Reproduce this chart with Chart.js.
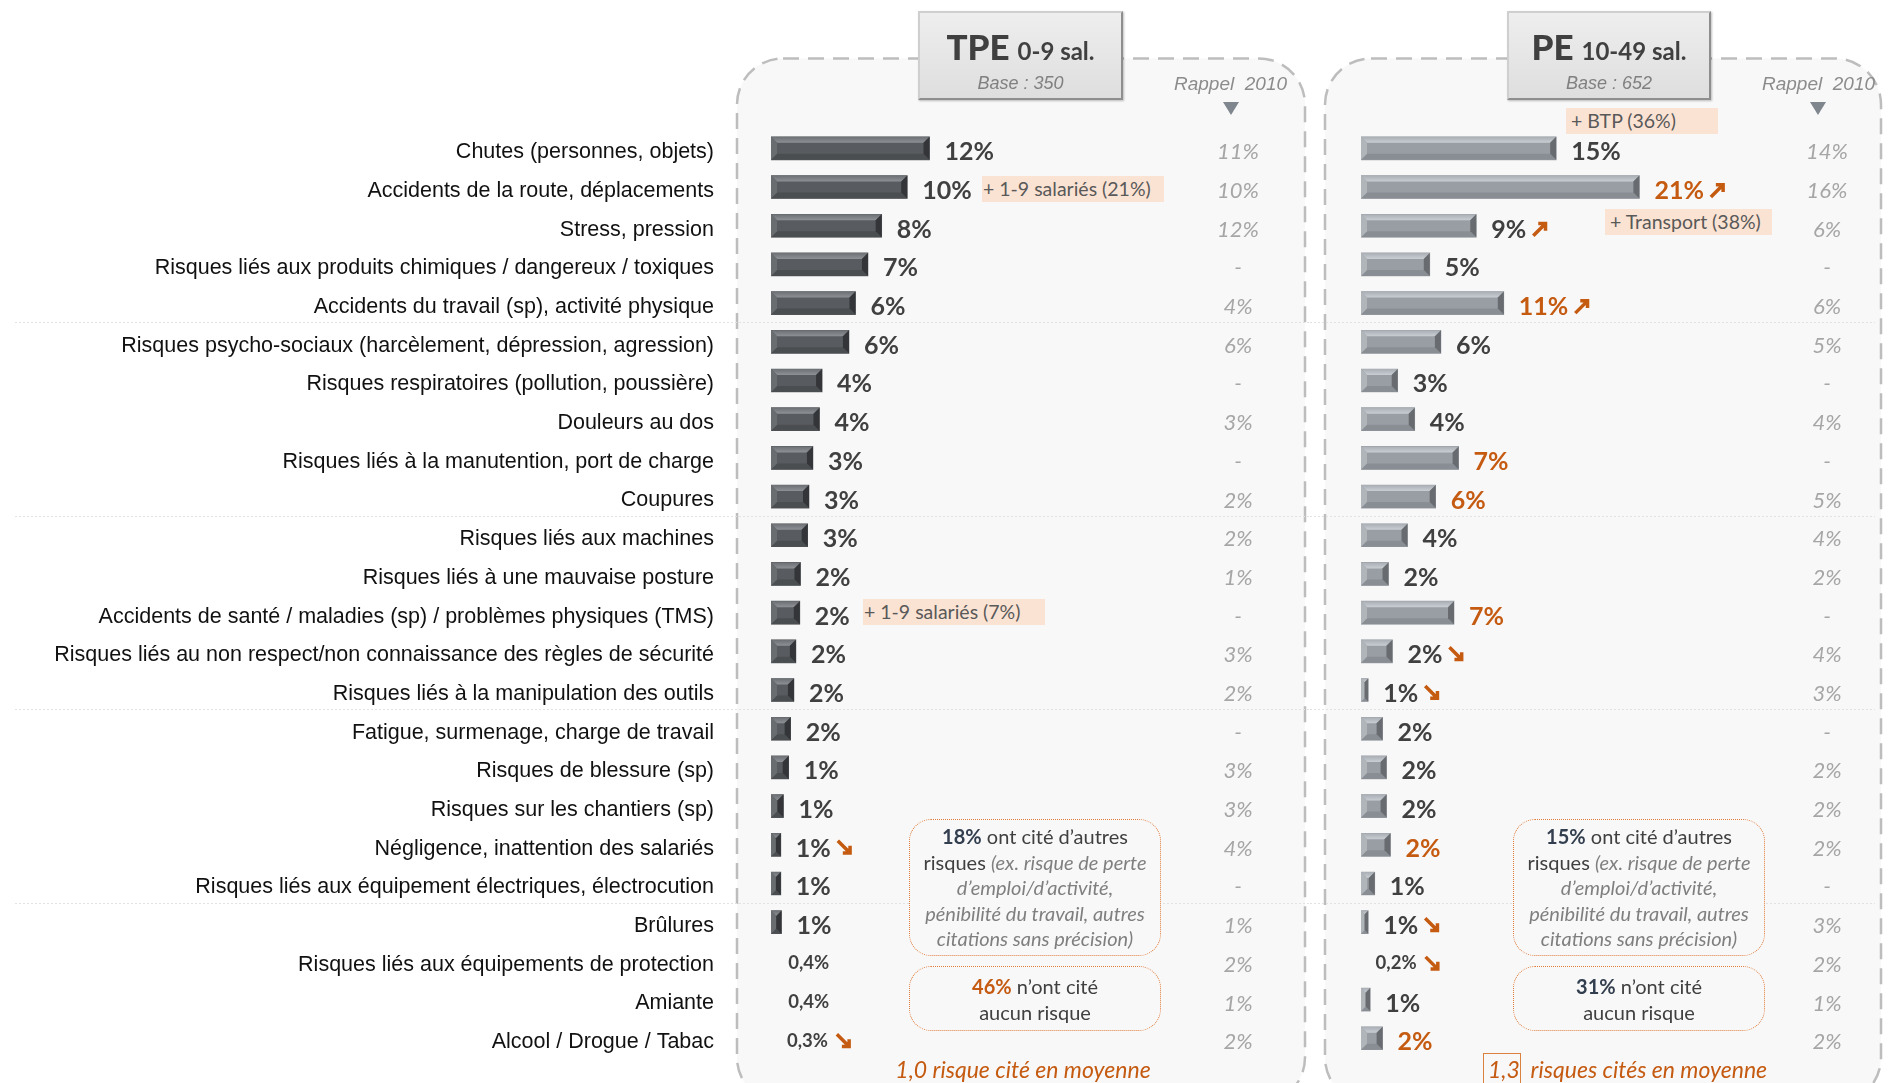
<!DOCTYPE html>
<html>
<head>
<meta charset="utf-8">
<script src="https://cdn.jsdelivr.net/npm/chart.js@4/dist/chart.umd.min.js"></script>
<style>
  body { margin: 0; width: 1889px; height: 1083px; overflow: hidden; position: relative; background: #fff; font-family: Lato, sans-serif; }
  #panels { position: absolute; left: 0; top: 0; z-index: 0; }
  canvas { position: absolute; top: 0; z-index: 1; }
  .abs { position: absolute; z-index: 2; }
  .hdr { background: linear-gradient(#eeeeee, #dedede); border: 2px solid; border-color: #cfcfcf #8e8e8e #8e8e8e #cfcfcf; box-shadow: 1px 1px 2px rgba(0,0,0,.25); box-sizing: border-box; }
  .hdrTitle { text-align: center; color: #404040; font-weight: bold; height: 44px; line-height: 44px; white-space: nowrap; }
  .hdrTitle .big { font-size: 35px; font-weight: 900; }
  .hdrTitle .sm { font-size: 24px; margin-left: 4px; }
  .base { text-align: center; font: italic 18px "Liberation Sans", Arial, sans-serif; color: #808080; line-height: 20px; }
  .rappel { font: italic 19px "Liberation Sans", Arial, sans-serif; color: #8c8c8c; line-height: 21px; white-space: pre; }
  .note { background: #fbe3d4; color: #595959; font-size: 19.5px; height: 26px; line-height: 26px; box-sizing: border-box; white-space: nowrap; }
  .box { border: 1.5px dotted #e07b39; border-radius: 22px; background: #f8f8f8; box-sizing: border-box; text-align: center; font-size: 20px; line-height: 25.6px; color: #404040; white-space: nowrap; }
  .box b { color: #333f4f; }
  .box i { color: #7f7f7f; }
  .box b.or { color: #c55a11; }
  .moy { font: italic 23px Lato, sans-serif; color: #c55a11; line-height: 25px; white-space: nowrap; }
</style>
</head>
<body>

<svg id="panels" width="1889" height="1083">
  <rect x="737" y="58.5" width="568" height="1045" rx="46" fill="#f8f8f8" stroke="#bdbdbd" stroke-width="2.5" stroke-dasharray="16 9"/>
  <rect x="1325" y="58.5" width="556" height="1045" rx="46" fill="#f8f8f8" stroke="#bdbdbd" stroke-width="2.5" stroke-dasharray="16 9"/>
  <polygon points="1223,102 1239,102 1231,115" fill="#7f868e"/>
  <polygon points="1810,102 1826,102 1818,115" fill="#7f868e"/>
</svg>

<canvas id="chartTPE" width="1310" height="1083" style="left:0;width:1310px;height:1083px"></canvas>
<canvas id="chartPE" width="579" height="1083" style="left:1310px;width:579px;height:1083px"></canvas>

<!-- en-têtes -->
<div class="abs hdr" style="left:918px;top:11px;width:205px;height:89px"></div>
<div class="abs hdrTitle" style="left:918px;top:24px;width:205px"><span class="big">TPE</span> <span class="sm">0-9 sal.</span></div>
<div class="abs base" style="left:918px;top:73px;width:205px">Base : 350</div>
<div class="abs rappel" style="left:1174px;top:73px">Rappel  2010</div>

<div class="abs hdr" style="left:1507px;top:11px;width:204px;height:89px"></div>
<div class="abs hdrTitle" style="left:1507px;top:24px;width:204px"><span class="big">PE</span> <span class="sm">10-49 sal.</span></div>
<div class="abs base" style="left:1507px;top:73px;width:204px">Base : 652</div>
<div class="abs rappel" style="left:1762px;top:73px">Rappel  2010</div>

<!-- sur-représentations -->
<div class="abs note" style="left:982px;top:176px;width:182px;padding-left:1px">+ 1-9 salariés (21%)</div>
<div class="abs note" style="left:863px;top:599px;width:182px;padding-left:1px">+ 1-9 salariés (7%)</div>
<div class="abs note" style="left:1566px;top:108px;width:152px;padding-left:5px">+ BTP (36%)</div>
<div class="abs note" style="left:1605px;top:209px;width:167px;padding-left:5px">+ Transport (38%)</div>

<!-- encadrés du bas -->
<div class="abs box" style="left:909px;top:819px;width:252px;height:137px;padding-top:4px">
  <b>18%</b> ont cité d’autres<br>risques <i>(ex. risque de perte<br>d’emploi/d’activité,<br>pénibilité du travail, autres<br>citations sans précision)</i>
</div>
<div class="abs box" style="left:909px;top:966px;width:252px;height:65px;padding-top:7px">
  <b class="or">46%</b> n’ont cité<br>aucun risque
</div>
<div class="abs box" style="left:1513px;top:819px;width:252px;height:137px;padding-top:4px">
  <b>15%</b> ont cité d’autres<br>risques <i>(ex. risque de perte<br>d’emploi/d’activité,<br>pénibilité du travail, autres<br>citations sans précision)</i>
</div>
<div class="abs box" style="left:1513px;top:966px;width:252px;height:65px;padding-top:7px">
  <b>31%</b> n’ont cité<br>aucun risque
</div>

<div class="abs moy" style="left:823px;top:1057px;width:400px;text-align:center">1,0 risque cité en moyenne</div>
<div class="abs" style="left:1483px;top:1053px;width:38px;height:40px;border:1.5px solid #d9823f;box-sizing:border-box"></div>
<div class="abs moy" style="left:1488px;top:1057px">1,3&nbsp; risques cités en moyenne</div>

<script>
const categories = [
    'Chutes (personnes, objets)',
    'Accidents de la route, déplacements',
    'Stress, pression',
    'Risques liés aux produits chimiques / dangereux / toxiques',
    'Accidents du travail (sp), activité physique',
    'Risques psycho-sociaux (harcèlement, dépression, agression)',
    'Risques respiratoires (pollution, poussière)',
    'Douleurs au dos',
    'Risques liés à la manutention, port de charge',
    'Coupures',
    'Risques liés aux machines',
    'Risques liés à une mauvaise posture',
    'Accidents de santé / maladies (sp) / problèmes physiques (TMS)',
    'Risques liés au non respect/non connaissance des règles de sécurité',
    'Risques liés à la manipulation des outils',
    'Fatigue, surmenage, charge de travail',
    'Risques de blessure (sp)',
    'Risques sur les chantiers (sp)',
    'Négligence, inattention des salariés',
    'Risques liés aux équipement électriques, électrocution',
    'Brûlures',
    'Risques liés aux équipements de protection',
    'Amiante',
    'Alcool / Drogue / Tabac'
];

const tpeValues = [12.1, 10.4, 8.45, 7.4, 6.45, 5.95, 3.9, 3.7, 3.2, 2.9, 2.8, 2.25, 2.2, 1.9, 1.75, 1.5, 1.35, 0.95, 0.75, 0.75, 0.8, 0.4, 0.4, 0.3];
const peValues = [14.9, 21.25, 8.8, 5.25, 10.9, 6.1, 2.8, 4.1, 7.45, 5.7, 3.55, 2.1, 7.1, 2.4, 0.55, 1.65, 1.95, 1.95, 2.25, 1.05, 0.55, 0.2, 0.7, 1.65];

// rappel 2010 (null = "-")
const tpeRappel = [11, 10, 12, null, 4, 6, null, 3, null, 2, 2, 1, null, 3, 2, null, 3, 3, 4, null, 1, 2, 1, 2];
const peRappel = [14, 16, 6, null, 6, 5, null, 4, null, 5, 4, 2, null, 4, 3, null, 2, 2, 2, null, 3, 2, 1, 2];

// évolutions significatives vs 2010
const tpeTrend = ['', '', '', '', '', '', '', '', '', '', '', '', '', '', '', '', '', '', 'down', '', '', '', '', 'down'];
const peTrend = ['', 'up', 'up', '', 'up', '', '', '', '', '', '', '', '', 'down', 'down', '', '', '', '', '', 'down', 'down', '', ''];

// écarts significatifs vs ensemble (libellé en orange)
const tpeSignif = [];
const peSignif = [1, 4, 8, 9, 12, 18, 23];

// séparateurs tous les 5 items
const groupBreaks = [5, 10, 15, 20];

const ORANGE = '#c55a11';

function fmtPct(v) {
    if (v < 0.5) return v.toFixed(1).replace('.', ',') + '%';
    return Math.round(v) + '%';
}

function poly(ctx, pts, fill) {
    ctx.beginPath();
    ctx.moveTo(pts[0][0], pts[0][1]);
    pts.slice(1).forEach(p => ctx.lineTo(p[0], p[1]));
    ctx.closePath();
    ctx.fillStyle = fill;
    ctx.fill();
}

function bevel(ctx, bar, c) {
    const p = bar.getProps(['x', 'y', 'base', 'height'], true);
    const x0 = p.base, x1 = p.x;
    const y0 = p.y - p.height / 2, y1 = p.y + p.height / 2;
    const b = Math.min(6, (x1 - x0) / 2);
    const g = ctx.createLinearGradient(0, y0, 0, y0 + b);
    g.addColorStop(0, c.top0);
    g.addColorStop(1, c.top1);
    poly(ctx, [[x0, y0], [x1, y0], [x1 - b, y0 + b], [x0 + b, y0 + b]], g);
    poly(ctx, [[x0, y1], [x1, y1], [x1 - b, y1 - b], [x0 + b, y1 - b]], c.bottom);
    poly(ctx, [[x0, y0], [x0 + b, y0 + b], [x0 + b, y1 - b], [x0, y1]], c.left);
    poly(ctx, [[x1, y0], [x1 - b, y0 + b], [x1 - b, y1 - b], [x1, y1]], c.right);
}

function arrow(ctx, x, yc, dir) {
    const s = 14, t = 9;
    const y0 = yc - s / 2;
    ctx.save();
    ctx.strokeStyle = ORANGE;
    ctx.lineWidth = 3.5;
    ctx.lineJoin = 'miter';
    ctx.beginPath();
    if (dir === 'up') {
        ctx.moveTo(x, y0 + s); ctx.lineTo(x + s - 2, y0 + 2);
        ctx.moveTo(x + s - t, y0 + 1.75); ctx.lineTo(x + s - 1.75, y0 + 1.75); ctx.lineTo(x + s - 1.75, y0 + t);
    } else {
        ctx.moveTo(x, y0); ctx.lineTo(x + s - 2, y0 + s - 2);
        ctx.moveTo(x + s - t, y0 + s - 1.75); ctx.lineTo(x + s - 1.75, y0 + s - 1.75); ctx.lineTo(x + s - 1.75, y0 + s - t);
    }
    ctx.stroke();
    ctx.restore();
}

const rowDecor = {
    id: 'rowDecor',
    beforeDatasetsDraw(chart, args, o) {
        const ctx = chart.ctx, y = chart.scales.y;
        ctx.save();
        ctx.strokeStyle = '#e2e2e2';
        ctx.lineWidth = 1;
        ctx.setLineDash([2, 2]);
        groupBreaks.forEach(i => {
            const yy = Math.round((y.getPixelForValue(i - 1) + y.getPixelForValue(i)) / 2) + 0.5;
            ctx.beginPath();
            ctx.moveTo(o.lineFrom, yy);
            ctx.lineTo(o.lineTo, yy);
            ctx.stroke();
        });
        ctx.restore();
    },
    afterDatasetsDraw(chart, args, o) {
        const ctx = chart.ctx;
        const ds = chart.data.datasets[0];
        const xs = chart.scales.x;
        const meta = chart.getDatasetMeta(0);
        ctx.save();
        meta.data.forEach((bar, i) => {
            const v = ds.data[i];
            if (v >= 0.5) bevel(ctx, bar, o.bevel);
            const yc = bar.y;
            const small = v < 0.5;
            const txt = fmtPct(v);
            ctx.font = small ? 'bold 18.5px Lato' : 'bold 25px Lato';
            ctx.fillStyle = ds.signif.includes(i) ? ORANGE : '#404040';
            ctx.textAlign = 'left';
            ctx.textBaseline = 'alphabetic';
            const lx = xs.getPixelForValue(v) + (small ? 12 : 15);
            ctx.fillText(txt, lx, yc + (small ? 8.5 : 12));
            if (ds.trend[i]) {
                arrow(ctx, lx + ctx.measureText(txt).width + (small ? 9 : 7), yc + 3, ds.trend[i]);
            }
            // rappel 2010
            const r = ds.rappel[i];
            ctx.font = 'italic 22px Lato';
            ctx.fillStyle = '#a6a6a6';
            ctx.textAlign = 'center';
            ctx.fillText(r === null ? '-' : r + '%', o.rappelX, yc + 11);
        });
        ctx.restore();
    }
};

function makeChart(ctxId, values, extra, opts) {
    const ctx = document.getElementById(ctxId).getContext('2d');
    return new Chart(ctx, {
        type: 'bar',
        data: {
            labels: categories,
            datasets: [{
                data: values,
                backgroundColor: c => c.raw < 0.5 ? 'rgba(0,0,0,0)' : opts.bevel.face,
                borderWidth: 0,
                barThickness: 23,
                rappel: extra.rappel,
                trend: extra.trend,
                signif: extra.signif
            }]
        },
        options: {
            indexAxis: 'y',
            responsive: false,
            animation: false,
            layout: { padding: { left: opts.padLeft, right: opts.padRight, top: 129, bottom: 25.4 } },
            scales: {
                x: { display: false, min: 0, max: 40 },
                y: {
                    display: opts.showLabels,
                    grid: { display: false, drawTicks: false },
                    border: { display: false },
                    afterFit: axis => {
                        if (!opts.showLabels) return;
                        axis.width = 771; // aligns the bars with the panel
                        axis.paddingTop = 0;
                        axis.paddingBottom = 0;
                    },
                    ticks: {
                        autoSkip: false,
                        padding: 57,
                        labelOffset: 4,
                        color: '#111111',
                        font: { family: '"Liberation Sans", Arial, sans-serif', size: 21.5 }
                    }
                }
            },
            plugins: {
                legend: { display: false },
                tooltip: { enabled: false },
                rowDecor: { lineFrom: opts.lineFrom, lineTo: opts.lineTo, rappelX: opts.rappelX, bevel: opts.bevel }
            }
        },
        plugins: [rowDecor]
    });
}

makeChart('chartTPE', tpeValues,
    { rappel: tpeRappel, trend: tpeTrend, signif: tpeSignif },
    {
        showLabels: true, padLeft: 0, padRight: 15,
        lineFrom: 15, lineTo: 1310, rappelX: 1238,
        bevel: { face: '#585b5f', top0: '#6c6f73', top1: '#8e9195', bottom: '#4b4e51', left: '#6a6d70', right: '#333538' }
    });

makeChart('chartPE', peValues,
    { rappel: peRappel, trend: peTrend, signif: peSignif },
    {
        showLabels: false, padLeft: 51, padRight: 4,
        lineFrom: 0, lineTo: 565, rappelX: 517,
        bevel: { face: '#999ea4', top0: '#a9aeb4', top1: '#c9ced4', bottom: '#898e94', left: '#b0b5ba', right: '#686c71' }
    });
</script>
</body>
</html>
